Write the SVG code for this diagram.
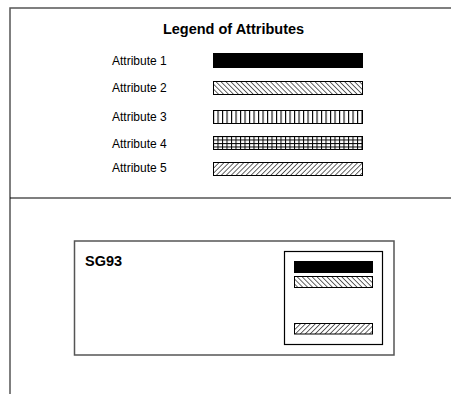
<svg xmlns="http://www.w3.org/2000/svg" width="451" height="394" viewBox="0 0 451 394">
<style>
.lbl{font-family:"Liberation Sans",Arial,sans-serif;font-size:12px;fill:#000}
.ttl{font-family:"Liberation Sans",Arial,sans-serif;font-size:14.5px;font-weight:bold;fill:#000}
.bar{stroke:#000;stroke-width:1}
.frame{fill:none;stroke:#555;stroke-width:1.5}
</style>
<defs>
<pattern id="p2" patternUnits="userSpaceOnUse" width="3.5" height="3.5" patternTransform="rotate(-45)">
<rect width="3.5" height="3.5" fill="#fff"/><line x1="0" y1="0" x2="0" y2="3.5" stroke="#000" stroke-width="1.2"/>
</pattern>
<pattern id="p5" patternUnits="userSpaceOnUse" width="3.5" height="3.5" patternTransform="rotate(45)">
<rect width="3.5" height="3.5" fill="#fff"/><line x1="0" y1="0" x2="0" y2="3.5" stroke="#000" stroke-width="1.2"/>
</pattern>
<pattern id="p3" patternUnits="userSpaceOnUse" x="213" y="0" width="4.5" height="10">
<rect width="4.5" height="10" fill="#fff"/><line x1="0.5" y1="0" x2="0.5" y2="10" stroke="#000" stroke-width="1.2"/>
</pattern>
<pattern id="p4" patternUnits="userSpaceOnUse" x="213" y="136" width="4.5" height="3.5">
<rect width="4.5" height="3.5" fill="#fff"/><line x1="0.5" y1="0" x2="0.5" y2="3.5" stroke="#000" stroke-width="1"/><line x1="0" y1="0.5" x2="4.5" y2="0.5" stroke="#000" stroke-width="1"/>
</pattern>
</defs>
<g id="frame">
<path class="frame" d="M10,394 V8 H451"/>
<line x1="10" y1="198" x2="451" y2="198" stroke="#000" stroke-width="1.2"/>
</g>
<g id="legend">
<text class="ttl" x="233.5" y="34" text-anchor="middle">Legend of Attributes</text>
<text class="lbl" x="112" y="64.5">Attribute 1</text>
<text class="lbl" x="112" y="92">Attribute 2</text>
<text class="lbl" x="112" y="121">Attribute 3</text>
<text class="lbl" x="112" y="148">Attribute 4</text>
<text class="lbl" x="112" y="172">Attribute 5</text>
<rect class="bar" x="213.5" y="53.5" width="149" height="14" fill="#000"/>
<rect class="bar" x="213.5" y="81.5" width="149" height="13" fill="url(#p2)"/>
<rect class="bar" x="213.5" y="110.5" width="149" height="13" fill="url(#p3)"/>
<rect class="bar" x="213.5" y="136.5" width="149" height="13" fill="url(#p4)"/>
<rect class="bar" x="213.5" y="162.5" width="149" height="13" fill="url(#p5)"/>
</g>
<g id="SG93">
<rect x="74.5" y="241" width="319.5" height="114" fill="#fff" stroke="#555" stroke-width="1.5"/>
<text class="ttl" x="85" y="265.5">SG93</text>
<rect x="284.5" y="251.5" width="98" height="93" fill="#fff" stroke="#000" stroke-width="1.2"/>
<rect class="bar" x="294.5" y="261.5" width="78" height="11" fill="#000"/>
<rect class="bar" x="294.5" y="276.5" width="78" height="11" fill="url(#p2)"/>
<rect class="bar" x="294.5" y="323.5" width="78" height="10.5" fill="url(#p5)"/>
</g>
</svg>
